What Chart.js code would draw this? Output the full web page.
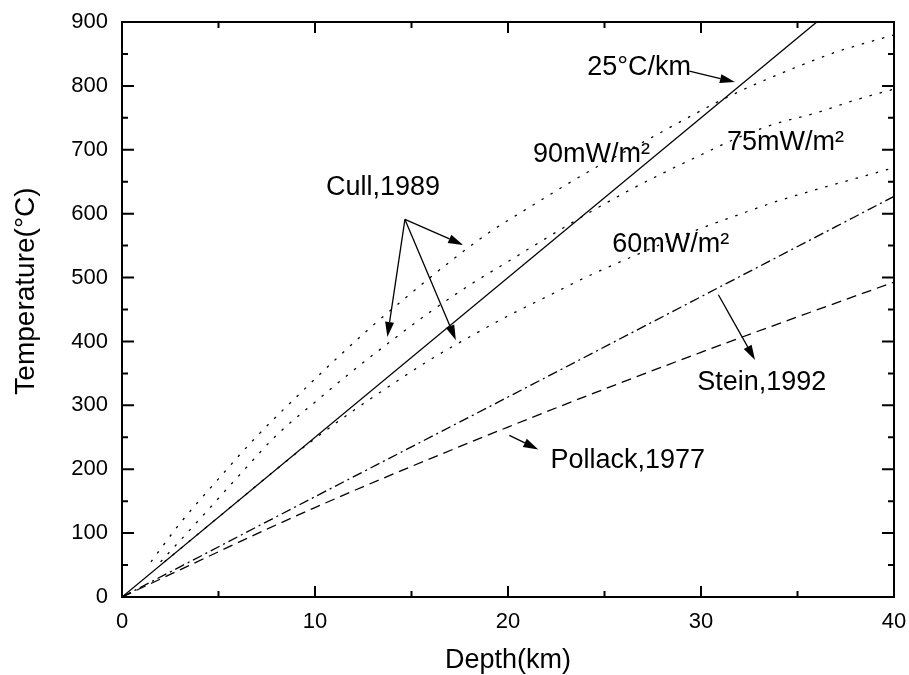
<!DOCTYPE html>
<html>
<head>
<meta charset="utf-8">
<script src="https://cdn.jsdelivr.net/npm/chart.js@4.4.0/dist/chart.umd.min.js"></script>
<style>
html, body { margin: 0; padding: 0; background: #fff; }
#wrap { width: 909px; height: 675px; }
</style>
</head>
<body>
<div id="wrap"><canvas id="line-chart"></canvas></div>
<script>
// depth (km) and temperature (C)
const depthCull90 = [1.5, 3, 5, 7, 9, 11, 13, 15, 17, 19, 21, 23, 25, 27, 29, 31, 33, 35, 37, 40];
const tempCull90  = [55, 115, 185, 252, 312, 370, 425, 476, 525, 570, 608, 645, 680, 712, 745, 777, 805, 830, 853, 880];
const depthCull75 = [2, 4, 6, 8, 10, 12, 14, 16, 18, 20, 22, 24, 26, 28, 30, 32, 34, 36, 38, 40];
const tempCull75  = [55, 121, 188, 253, 305, 355, 402, 447, 488, 525, 562, 598, 632, 663, 692, 720, 742, 758, 778, 795];
const depthCull60 = [2.2, 4, 6, 8, 10, 12, 14, 16, 18, 20, 22, 24, 26, 28, 30, 32, 34, 36, 38, 40];
const tempCull60  = [55, 100, 150, 200, 248, 292, 333, 372, 407, 440, 470, 500, 527, 553, 577, 599, 620, 638, 655, 672];
const depthStein = [0, 10, 20, 30, 40];
const tempStein  = [0, 157, 313, 470, 627];
const depthPollack = [0, 10, 20, 30, 40];
const tempPollack  = [0, 140, 266, 383, 493];
const depthGrad = [0, 36];
const tempGrad  = [0, 900];

const xTicks = [0, 10, 20, 30, 40];
const yTicks = [0, 100, 200, 300, 400, 500, 600, 700, 800, 900];

// annotation text: [text, depth, temp]
const labels = [
    ['25°C/km', 24.1, 817],
    ['90mW/m²', 21.3, 681],
    ['75mW/m²', 31.35, 700],
    ['60mW/m²', 25.4, 540],
    ['Cull,1989', 10.57, 629],
    ['Stein,1992', 29.8, 324],
    ['Pollack,1977', 22.2, 202]
];
// arrows: [fromDepth, fromTemp, toDepth, toTemp]
const arrows = [
    [29.4, 823, 31.76, 806],
    [14.66, 591, 17.68, 551],
    [14.66, 591, 13.75, 407],
    [14.66, 591, 17.3, 402],
    [30.9, 473, 32.8, 371],
    [20.07, 253, 21.57, 231]
];

function pts(xs, ys) {
    return xs.map((x, i) => ({x: x, y: ys[i]}));
}

const FONT = '"Liberation Sans", Arial, sans-serif';

function drawArrow(ctx, x0, y0, x1, y1) {
    const ang = Math.atan2(y1 - y0, x1 - x0);
    const hl = 15, hw = 4.5;
    const bx = x1 - hl * Math.cos(ang), by = y1 - hl * Math.sin(ang);
    ctx.beginPath();
    ctx.moveTo(x0, y0);
    ctx.lineTo(bx, by);
    ctx.stroke();
    ctx.beginPath();
    ctx.moveTo(x1, y1);
    ctx.lineTo(bx + hw * Math.sin(ang), by - hw * Math.cos(ang));
    ctx.lineTo(bx - hw * Math.sin(ang), by + hw * Math.cos(ang));
    ctx.closePath();
    ctx.fill();
}

const framePlugin = {
    id: 'frame',
    afterDraw(chart) {
        const ctx = chart.ctx, a = chart.chartArea;
        const xs = chart.scales.x, ys = chart.scales.y;
        ctx.save();
        ctx.strokeStyle = '#000';
        ctx.fillStyle = '#000';
        ctx.lineWidth = 2;
        ctx.strokeRect(a.left, a.top, a.right - a.left, a.bottom - a.top);
        ctx.beginPath();
        xs.ticks.forEach(t => {
            const p = xs.getPixelForValue(t.value);
            const len = t.value % 10 === 0 ? 11 : 6;
            ctx.moveTo(p, a.bottom); ctx.lineTo(p, a.bottom - len);
            ctx.moveTo(p, a.top); ctx.lineTo(p, a.top + len);
        });
        ys.ticks.forEach(t => {
            const p = ys.getPixelForValue(t.value);
            const len = t.value % 100 === 0 ? 12 : 6;
            ctx.moveTo(a.left, p); ctx.lineTo(a.left + len, p);
            ctx.moveTo(a.right, p); ctx.lineTo(a.right - len, p);
        });
        ctx.stroke();

        // axis titles
        ctx.font = '27px ' + FONT;
        ctx.textAlign = 'center';
        ctx.textBaseline = 'alphabetic';
        ctx.fillText('Depth(km)', (a.left + a.right) / 2, 668);
        ctx.save();
        ctx.translate(34, 291);
        ctx.rotate(-Math.PI / 2);
        ctx.font = '28px ' + FONT;
        ctx.fillText('Temperature(°C)', 0, 0);
        ctx.restore();

        // annotations
        ctx.font = '27px ' + FONT;
        ctx.textAlign = 'left';
        labels.forEach(l => {
            ctx.fillText(l[0], xs.getPixelForValue(l[1]), ys.getPixelForValue(l[2]));
        });
        ctx.lineWidth = 1.3;
        arrows.forEach(r => {
            drawArrow(ctx, xs.getPixelForValue(r[0]), ys.getPixelForValue(r[1]),
                xs.getPixelForValue(r[2]), ys.getPixelForValue(r[3]));
        });
        ctx.restore();
    }
};

const lineBase = {
    borderColor: '#000',
    borderWidth: 1.3,
    pointRadius: 0,
    fill: false,
    cubicInterpolationMode: 'monotone'
};

window.onload = function(){
    new Chart(document.getElementById('line-chart'), {
        type: 'line',
        data: {
            datasets: [
                Object.assign({label: '25 C/km', data: pts(depthGrad, tempGrad)}, lineBase),
                Object.assign({label: '90mW/m2', data: pts(depthCull90, tempCull90), borderDash: [2.5, 8]}, lineBase),
                Object.assign({label: '75mW/m2', data: pts(depthCull75, tempCull75), borderDash: [2.5, 8]}, lineBase),
                Object.assign({label: '60mW/m2', data: pts(depthCull60, tempCull60), borderDash: [2.5, 8]}, lineBase),
                Object.assign({label: 'Stein,1992', data: pts(depthStein, tempStein), borderDash: [10, 4, 2, 4]}, lineBase),
                Object.assign({label: 'Pollack,1977', data: pts(depthPollack, tempPollack), borderDash: [10, 6]}, lineBase)
            ]
        },
        options: {
            responsive: true,
            maintainAspectRatio: false,
            animation: false,
            layout: { padding: { top: 22, right: 15, left: 0, bottom: 0 } },
            plugins: {
                legend: { display: false },
                tooltip: { enabled: false }
            },
            scales: {
                x: {
                    type: 'linear',
                    min: xTicks[0],
                    max: xTicks[xTicks.length - 1],
                    grid: { display: false, drawTicks: false },
                    border: { display: false },
                    ticks: {
                        stepSize: 5,
                        autoSkip: false,
                        maxRotation: 0,
                        padding: 12,
                        color: '#000',
                        font: { size: 22, family: FONT },
                        callback: v => xTicks.includes(v) ? v : ''
                    },
                    afterFit: s => { s.height = 78; s.paddingLeft = 0; s.paddingRight = 0; }
                },
                y: {
                    type: 'linear',
                    min: yTicks[0],
                    max: yTicks[yTicks.length - 1],
                    grid: { display: false, drawTicks: false },
                    border: { display: false },
                    ticks: {
                        stepSize: 50,
                        autoSkip: false,
                        padding: 14,
                        color: '#000',
                        font: { size: 22, family: FONT },
                        callback: v => yTicks.includes(v) ? v : ''
                    },
                    afterFit: s => { s.width = 122; s.paddingTop = 0; s.paddingBottom = 0; }
                }
            }
        },
        plugins: [framePlugin]
    });
};
</script>
</body>
</html>
